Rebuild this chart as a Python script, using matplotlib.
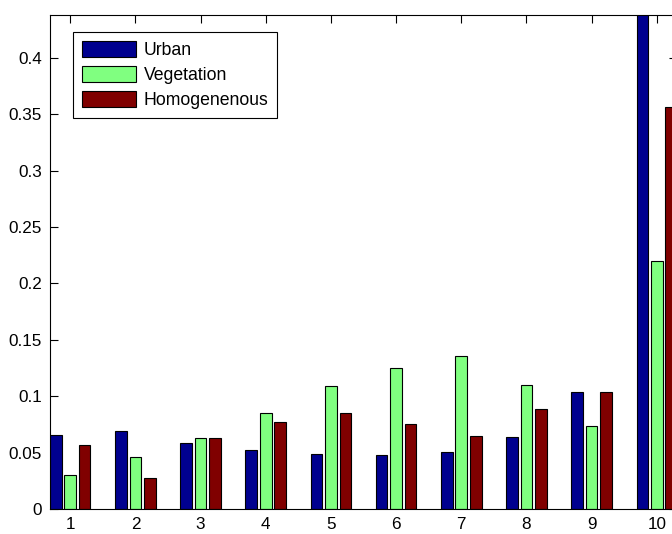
import numpy as np
import matplotlib
matplotlib.use("Agg")
import matplotlib.pyplot as plt

plt.rcParams['font.family'] = ['Liberation Sans', 'DejaVu Sans']

groups = [1, 2, 3, 4, 5, 6, 7, 8, 9, 10]
urban = [0.0655, 0.0696, 0.0584, 0.0525, 0.0484, 0.0480, 0.0507, 0.0640, 0.1041, 0.50]
vegetation = [0.0298, 0.0457, 0.0631, 0.0850, 0.1094, 0.1254, 0.1354, 0.1103, 0.0732, 0.2197]
homogenous = [0.0564, 0.0271, 0.0628, 0.0773, 0.0855, 0.0758, 0.0649, 0.0888, 0.1035, 0.3560]
names = ['Urban', 'Vegetation', 'Homogenenous']
colors = ['#00008F', '#80FF80', '#800000']
yticks = [0, 0.05, 0.1, 0.15, 0.2, 0.25, 0.3, 0.35, 0.4]

fig = plt.figure(figsize=(6.72, 5.34), dpi=100)
# axes runs a little past the right edge, like the cropped original
ax = fig.add_axes([50 / 672, 25 / 534, 627 / 672, 494 / 534])
ax.set_axisbelow(True)

x = np.array(groups)
step = 0.222
w = 0.178
for i, (vals, c, n) in enumerate(zip([urban, vegetation, homogenous], colors, names)):
    ax.bar(x + (i - 1) * step, vals, width=w, color=c, edgecolor='black',
           linewidth=0.8, label=n)

ax.set_xlim(0.69, 10.31)
ax.set_ylim(0, 0.438)
ax.set_xticks(groups)
ax.set_yticks(yticks)
ax.set_yticklabels(['0', '0.05', '0.1', '0.15', '0.2', '0.25', '0.3', '0.35', '0.4'])
ax.tick_params(direction='in', length=6, width=0.8, labelsize=12.3,
               top=True, right=True, pad=6)
for s in ax.spines.values():
    s.set_linewidth(0.8)

leg = ax.legend(loc='upper left', bbox_to_anchor=(23 / 627, 1 - 17 / 494),
                borderaxespad=0, fancybox=False, frameon=True,
                edgecolor='black', framealpha=1, fontsize=12.7,
                handlelength=3.05, handleheight=1.05, labelspacing=0.38,
                handletextpad=0.45, borderpad=0.5)
leg.get_frame().set_linewidth(0.8)

fig.savefig('out.png', dpi=100)
